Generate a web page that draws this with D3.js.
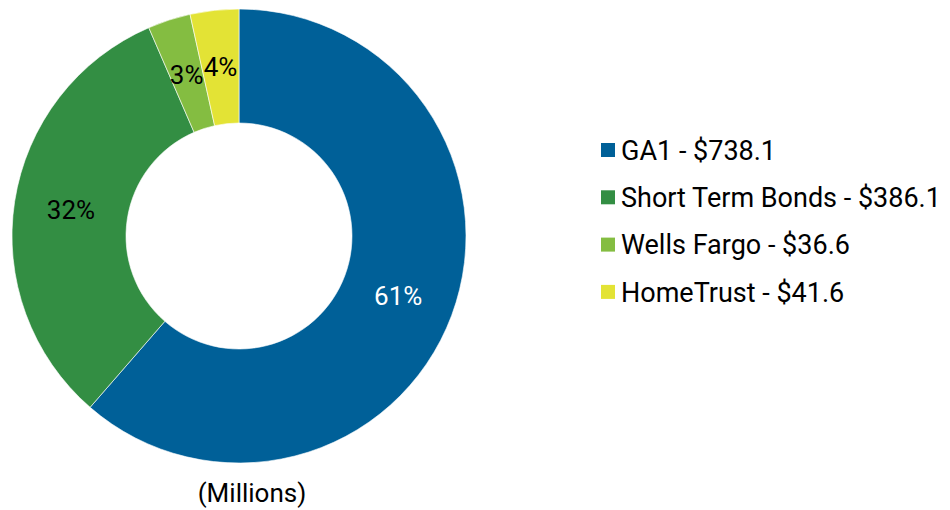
<!DOCTYPE html>
<html>
<head>
<meta charset="utf-8">
<script src="https://cdn.jsdelivr.net/npm/d3@7"></script>
<style>
  body { margin: 0; background: #fff; }
  svg text { font-family: Roboto, "Open Sans", sans-serif; }
</style>
</head>
<body>
<svg id="chart" width="950" height="510"></svg>
<script>
var names = ["GA1", "Short Term Bonds", "Wells Fargo", "HomeTrust"];
var values = [738.1, 386.1, 36.6, 41.6];
var pctLabels = ["61%", "32%", "3%", "4%"];
var colors = ["#006098", "#338E43", "#84BD41", "#E3E335"];
var labelColors = ["#ffffff", "#000000", "#000000", "#000000"];

var svg = d3.select("#chart");
var cx = 239, cy = 236, outerR = 227, innerR = 113;

var pie = d3.pie().sort(null).value(function (d) { return d; });
var arcs = pie(values);
var arc = d3.arc().innerRadius(innerR).outerRadius(outerR);
var labelArc = d3.arc().innerRadius(170).outerRadius(170);

var g = svg.append("g").attr("transform", "translate(" + cx + "," + cy + ")");

g.selectAll("path")
  .data(arcs)
  .enter()
  .append("path")
  .attr("d", arc)
  .attr("fill", function (d, i) { return colors[i]; })
  .attr("stroke", "#ffffff")
  .attr("stroke-width", 0.6);

g.selectAll("text.pct")
  .data(arcs)
  .enter()
  .append("text")
  .attr("class", "pct")
  .attr("transform", function (d) { return "translate(" + labelArc.centroid(d) + ")"; })
  .attr("text-anchor", "middle")
  .attr("dy", "0.36em")
  .attr("font-size", 26)
  .attr("fill", function (d, i) { return labelColors[i]; })
  .text(function (d, i) { return pctLabels[i]; });

svg.append("text")
  .attr("x", 252)
  .attr("y", 502)
  .attr("text-anchor", "middle")
  .attr("font-size", 26)
  .attr("fill", "#000")
  .text("(Millions)");

var legend = svg.append("g").attr("transform", "translate(601,150)");
var rows = legend.selectAll("g")
  .data(names)
  .enter()
  .append("g")
  .attr("transform", function (d, i) { return "translate(0," + (i * 47.3) + ")"; });

rows.append("rect")
  .attr("x", 0)
  .attr("y", -7)
  .attr("width", 14)
  .attr("height", 14)
  .attr("fill", function (d, i) { return colors[i]; });

rows.append("text")
  .attr("x", 20)
  .attr("dy", "0.36em")
  .attr("font-size", 27)
  .attr("fill", "#000")
  .text(function (d, i) { return d + " - $" + values[i].toFixed(1); });
</script>
</body>
</html>
